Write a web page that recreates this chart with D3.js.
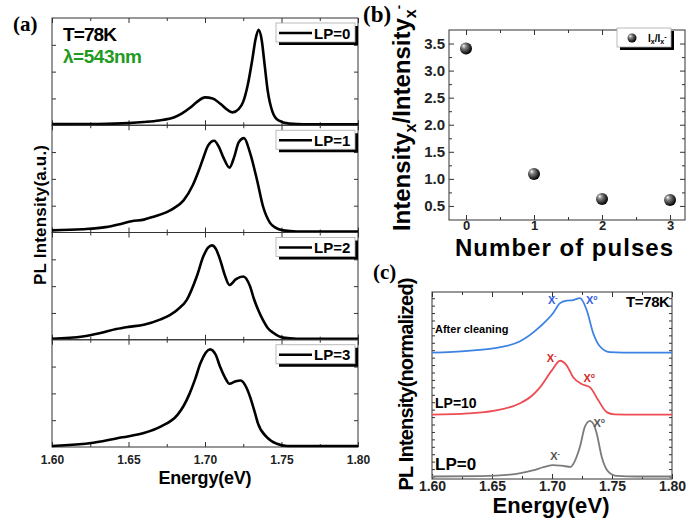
<!DOCTYPE html>
<html>
<head>
<meta charset="utf-8">
<script src="https://cdn.jsdelivr.net/npm/d3@7"></script>
<style>
body { margin: 0; background: #fff; }
svg { font-family: "Liberation Sans", Arial, sans-serif; font-weight: bold; }
.frame { fill: none; stroke: #333; stroke-width: 1; }
.domain { display: none; }
</style>
</head>
<body>
<script>
// (a) PL spectra, [energy eV, intensity a.u.]
const lp0 = [[1.60,.01],[1.63,.012],[1.65,.02],[1.66,.03],[1.67,.045],[1.68,.075],[1.685,.11],[1.69,.16],[1.695,.22],[1.70,.26],[1.705,.25],[1.71,.2],[1.715,.14],[1.718,.12],[1.722,.15],[1.725,.22],[1.728,.38],[1.731,.62],[1.733,.8],[1.735,.89],[1.737,.8],[1.739,.56],[1.741,.32],[1.744,.13],[1.748,.045],[1.755,.015],[1.765,.008],[1.80,.008]];
const lp1 = [[1.60,.02],[1.62,.03],[1.635,.05],[1.645,.08],[1.652,.105],[1.66,.12],[1.667,.15],[1.675,.19],[1.68,.23],[1.686,.30],[1.692,.44],[1.696,.58],[1.699,.70],[1.702,.81],[1.706,.855],[1.709,.8],[1.712,.7],[1.716,.605],[1.719,.7],[1.722,.84],[1.7255,.88],[1.7295,.74],[1.734,.49],[1.738,.24],[1.7425,.09],[1.746,.045],[1.751,.02],[1.76,.01],[1.80,.01]];
const lp2 = [[1.60,.01],[1.62,.03],[1.631,.06],[1.642,.1],[1.65,.12],[1.66,.14],[1.671,.19],[1.677,.23],[1.682,.28],[1.688,.37],[1.6946,.59],[1.699,.78],[1.702,.86],[1.7046,.88],[1.707,.85],[1.7098,.75],[1.713,.6],[1.716,.51],[1.7203,.565],[1.725,.59],[1.7294,.50],[1.732,.38],[1.735,.27],[1.738,.18],[1.741,.11],[1.7446,.065],[1.751,.02],[1.76,.01],[1.80,.01]];
const lp3 = [[1.60,.01],[1.627,.04],[1.646,.09],[1.66,.13],[1.671,.19],[1.682,.30],[1.6859,.38],[1.69,.50],[1.6935,.63],[1.697,.78],[1.7033,.91],[1.707,.86],[1.7098,.75],[1.713,.65],[1.716,.59],[1.7196,.61],[1.7233,.62],[1.7272,.55],[1.7294,.47],[1.7327,.315],[1.7346,.22],[1.7405,.09],[1.747,.03],[1.7536,.01],[1.80,.01]];
const lpNames = ["LP=0", "LP=1", "LP=2", "LP=3"];
const energyMajor = [1.60, 1.65, 1.70, 1.75, 1.80];
const energyMinor = [1.625, 1.675, 1.725, 1.775];
const levelTicksA = [0.25, 0.5, 0.75];

// (b) intensity ratio vs number of pulses
const pulses = [0, 1, 2, 3];
const ratio = [3.41, 1.09, 0.63, 0.61];
const pulseMinor = [0.5, 1.5, 2.5];
const ratioMajor = [0.5, 1.0, 1.5, 2.0, 2.5, 3.0, 3.5];
const ratioMinor = [0.75, 1.25, 1.75, 2.25, 2.75, 3.25];

// (c) normalized spectra, stacked
const lp0Norm = [[1.60,0],[1.64,.005],[1.665,.03],[1.684,.1],[1.693,.15],[1.701,.185],[1.708,.175],[1.7156,.155],[1.719,.25],[1.7233,.48],[1.7275,.81],[1.7317,.90],[1.7345,.85],[1.7372,.70],[1.7414,.32],[1.7469,.08],[1.7542,.01],[1.77,0],[1.80,0]];
const lp10Norm = [[1.60,0],[1.63,.02],[1.651,.06],[1.673,.18],[1.683,.3],[1.69,.44],[1.6997,.71],[1.7067,.87],[1.712,.8],[1.7178,.6],[1.7247,.495],[1.7317,.44],[1.7386,.23],[1.7456,.04],[1.752,.005],[1.77,0],[1.80,0]];
const cleanNorm = [[1.60,0],[1.63,.03],[1.651,.07],[1.673,.18],[1.69,.42],[1.701,.64],[1.7067,.80],[1.7122,.84],[1.7178,.85],[1.7233,.88],[1.7289,.69],[1.7344,.31],[1.74,.10],[1.748,.01],[1.77,0],[1.80,0]];
const cSeries = [lp0Norm, lp10Norm, cleanNorm];
const cOffsets = [0, 1, 2];
const cColors = ["#7b7b7b", "#ef4b52", "#3c82e4"];
const cNotes = [
  { e: 1.7025, v: 0.27, t: "X", s: "-", c: "#555" },
  { e: 1.7394, v: 0.80, t: "X", s: "o", c: "#555" },
  { e: 1.6997, v: 1.85, t: "X", s: "-", c: "#d42a2a" },
  { e: 1.7311, v: 1.53, t: "X", s: "o", c: "#d42a2a" },
  { e: 1.7006, v: 2.785, t: "X", s: "-", c: "#3460e0" },
  { e: 1.7331, v: 2.785, t: "X", s: "o", c: "#3460e0" }
];
const cLabels = [
  { e: 1.6025, v: 0.105, t: "LP=0", size: 17 },
  { e: 1.6025, v: 1.11, t: "LP=10", size: 14 },
  { e: 1.6025, v: 2.32, t: "After cleaning", size: 11 }
];

const svg = d3.select("body").append("svg")
    .attr("width", 688)
    .attr("height", 522);

const defs = svg.append("defs");
const ball = defs.append("radialGradient").attr("id", "ball")
    .attr("cx", "40%").attr("cy", "40%").attr("r", "60%")
    .attr("fx", "30%").attr("fy", "28%");
ball.append("stop").attr("offset", "0%").attr("stop-color", "#fff");
ball.append("stop").attr("offset", "30%").attr("stop-color", "#888");
ball.append("stop").attr("offset", "100%").attr("stop-color", "#000");

function ticks(axis, values, size, at, fmt, fontSize, pad) {
    const ax = axis.tickValues(values).tickSize(size).tickPadding(pad || 3);
    ax.tickFormat(fmt ? fmt : "");
    const g = svg.append("g").attr("transform", at).attr("color", "#333").call(ax);
    g.attr("font-family", null).attr("font-size", null);
    g.selectAll("text").style("font-size", (fontSize || 12) + "px").attr("fill", "#222");
    return g;
}

// ---------- (a)
const xA = d3.scaleLinear().domain([1.6, 1.8]).range([52, 358]);
const rowA = d3.scaleBand().domain(d3.range(4)).range([18, 447]);
const lineA = d3.line().curve(d3.curveMonotoneX);

[lp0, lp1, lp2, lp3].forEach((spec, i) => {
    const top = rowA(i), bot = top + rowA.bandwidth();
    const y = d3.scaleLinear().domain([0, 1]).range([bot, top]);

    svg.append("rect").attr("class", "frame")
        .attr("x", xA(1.6)).attr("y", top)
        .attr("width", xA(1.8) - xA(1.6)).attr("height", bot - top);

    const last = i === 3;
    ticks(d3.axisBottom(xA), energyMajor, -5, `translate(0,${bot})`, last ? d3.format(".2f") : null, 12, 8);
    ticks(d3.axisBottom(xA), energyMinor, -3, `translate(0,${bot})`);
    ticks(d3.axisTop(xA), energyMajor, -5, `translate(0,${top})`);
    ticks(d3.axisTop(xA), energyMinor, -3, `translate(0,${top})`);
    ticks(d3.axisLeft(y), levelTicksA, -4, `translate(${xA(1.6)},0)`);
    ticks(d3.axisRight(y), levelTicksA, -4, `translate(${xA(1.8)},0)`);

    svg.append("path")
        .attr("d", lineA.x(d => xA(d[0])).y(d => y(d[1]))(spec))
        .attr("fill", "none")
        .attr("stroke", "#000")
        .attr("stroke-width", 2.6);

    // legend box with drop shadow
    const lx = 276, ly = top + 5;
    svg.append("rect").attr("x", lx + 3).attr("y", ly + 3).attr("width", 79).attr("height", 19).attr("fill", "#000");
    svg.append("rect").attr("x", lx).attr("y", ly).attr("width", 79).attr("height", 19)
        .attr("fill", "#fff").attr("stroke", "#aaa").attr("stroke-width", 0.8);
    svg.append("line").attr("x1", lx + 3).attr("x2", lx + 36).attr("y1", ly + 10).attr("y2", ly + 10)
        .attr("stroke", "#000").attr("stroke-width", 2.5);
    svg.append("text").attr("x", lx + 38).attr("y", ly + 15.5).style("font-size", "15px").text(lpNames[i]);
});

svg.append("text").attr("x", 63).attr("y", 41).style("font-size", "19px").attr("textLength", 54).text("T=78K");
svg.append("text").attr("x", 63).attr("y", 63).style("font-size", "19px").attr("textLength", 79)
    .attr("fill", "#1f9a22").text("λ=543nm");
svg.append("text").attr("x", 13).attr("y", 31).style("font", "bold 21px 'Liberation Serif', serif").text("(a)");
svg.append("text").attr("transform", "translate(46,215) rotate(-90)").attr("text-anchor", "middle")
    .style("font-size", "17px").attr("textLength", 140).text("PL Intensity(a.u.)");
svg.append("text").attr("x", 205).attr("y", 484).attr("text-anchor", "middle")
    .style("font-size", "18px").attr("textLength", 93).text("Energy(eV)");

// ---------- (b)
const xB = d3.scaleLinear().domain([-0.25, 3.22]).range([449, 685]);
const yB = d3.scaleLinear().domain([0.24, 3.75]).range([220, 30]);

svg.append("rect").attr("class", "frame")
    .attr("x", 449).attr("y", 30).attr("width", 236).attr("height", 190);
ticks(d3.axisBottom(xB), pulses, -5, "translate(0,220)", d3.format("d"), 13, 1);
ticks(d3.axisBottom(xB), pulseMinor, -3, "translate(0,220)");
ticks(d3.axisTop(xB), pulses, -5, "translate(0,30)");
ticks(d3.axisTop(xB), pulseMinor, -3, "translate(0,30)");
ticks(d3.axisLeft(yB), ratioMajor, -5, "translate(449,0)", d3.format(".1f"), 15, 4);
ticks(d3.axisLeft(yB), ratioMinor, -3, "translate(449,0)");
ticks(d3.axisRight(yB), ratioMajor, -5, "translate(685,0)");
ticks(d3.axisRight(yB), ratioMinor, -3, "translate(685,0)");

svg.append("g").selectAll("circle")
    .data(pulses)
    .join("circle")
    .attr("cx", d => xB(d))
    .attr("cy", (d, i) => yB(ratio[i]))
    .attr("r", 6)
    .attr("fill", "url(#ball)");

svg.append("rect").attr("x", 620).attr("y", 31).attr("width", 54).attr("height", 19).attr("fill", "#000");
svg.append("rect").attr("x", 617).attr("y", 28).attr("width", 54).attr("height", 19)
    .attr("fill", "#fff").attr("stroke", "#aaa").attr("stroke-width", 0.8);
svg.append("circle").attr("cx", 632).attr("cy", 38).attr("r", 4.5).attr("fill", "url(#ball)");
const lgB = svg.append("text").attr("x", 648).attr("y", 42).style("font-size", "10px");
lgB.append("tspan").text("I");
lgB.append("tspan").attr("dy", 2).style("font-size", "7px").text("x");
lgB.append("tspan").attr("dy", -2).text("/I");
lgB.append("tspan").attr("dy", 2).style("font-size", "7px").text("x");
lgB.append("tspan").attr("dy", -5).style("font-size", "7px").text("-");

const ylB = svg.append("text").attr("transform", "translate(410,118) rotate(-90)")
    .attr("text-anchor", "middle").style("font-size", "24px");
ylB.append("tspan").text("Intensity");
ylB.append("tspan").attr("dy", 6).style("font-size", "16px").text("x");
ylB.append("tspan").attr("dy", -6).text("/Intensity");
ylB.append("tspan").attr("dy", 6).style("font-size", "16px").text("x");
ylB.append("tspan").attr("dy", -13).style("font-size", "13px").text("-");

svg.append("text").attr("x", 564).attr("y", 256).attr("text-anchor", "middle")
    .style("font-size", "24px").attr("textLength", 218).text("Number of pulses");
svg.append("text").attr("x", 363).attr("y", 22).style("font", "bold 23px 'Liberation Serif', serif").text("(b)");

// ---------- (c)
const xC = d3.scaleLinear().domain([1.6, 1.8]).range([432, 672]);
const yC = d3.scaleLinear().domain([-0.04, 2.98]).range([479, 292]);
const cLevelTicks = d3.range(0, 2.98, 0.12);

svg.append("rect").attr("class", "frame")
    .attr("x", 432).attr("y", 292).attr("width", 240).attr("height", 187);
ticks(d3.axisBottom(xC), energyMajor, -5, "translate(0,479)", d3.format(".2f"), 14, 2);
ticks(d3.axisBottom(xC), energyMinor, -3, "translate(0,479)");
ticks(d3.axisTop(xC), energyMajor, -5, "translate(0,292)");
ticks(d3.axisTop(xC), energyMinor, -3, "translate(0,292)");
ticks(d3.axisLeft(yC), cLevelTicks, -3, "translate(432,0)");
ticks(d3.axisRight(yC), cLevelTicks, -3, "translate(672,0)");

const lineC = d3.line().curve(d3.curveMonotoneX);
cSeries.forEach((spec, i) => {
    svg.append("path")
        .attr("d", lineC.x(d => xC(d[0])).y(d => yC(d[1] + cOffsets[i]))(spec))
        .attr("fill", "none")
        .attr("stroke", cColors[i])
        .attr("stroke-width", 1.8);
});

cNotes.forEach(n => {
    const t = svg.append("text").attr("x", xC(n.e)).attr("y", yC(n.v))
        .attr("text-anchor", "middle").attr("fill", n.c).style("font-size", "11px");
    t.append("tspan").text(n.t);
    t.append("tspan").attr("dy", -4).style("font-size", "7px").text(n.s);
});
cLabels.forEach(l => {
    svg.append("text").attr("x", xC(l.e)).attr("y", yC(l.v))
        .style("font-size", l.size + "px").text(l.t);
});
svg.append("text").attr("x", xC(1.7983)).attr("y", 307).attr("text-anchor", "end")
    .style("font-size", "15px").attr("textLength", 44).text("T=78K");

svg.append("text").attr("transform", "translate(413,384) rotate(-90)").attr("text-anchor", "middle")
    .style("font-size", "20px").attr("textLength", 213).text("PL Intensity(normalized)");
svg.append("text").attr("x", 551).attr("y", 513).attr("text-anchor", "middle")
    .style("font-size", "22px").attr("textLength", 117).text("Energy(eV)");
svg.append("text").attr("x", 373).attr("y", 279).style("font", "bold 21px 'Liberation Serif', serif").text("(c)");
</script>
</body>
</html>
